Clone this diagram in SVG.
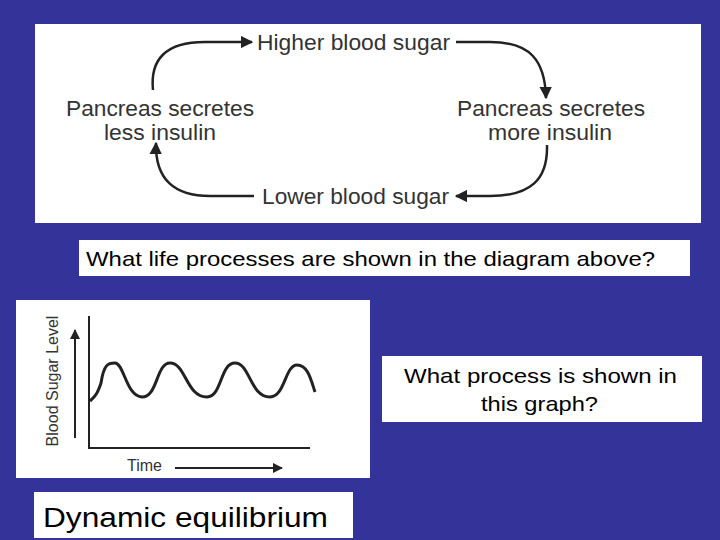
<svg xmlns="http://www.w3.org/2000/svg" width="720" height="540" viewBox="0 0 720 540">
<style>
.panel{fill:#ffffff}
.dt{font-family:"Liberation Sans",Arial,sans-serif;font-size:22px;fill:#333333;text-anchor:middle}
.q{font-family:"Liberation Sans",Arial,sans-serif;font-size:21px;fill:#000000}
.g{font-family:"Liberation Sans",Arial,sans-serif;font-size:16px;fill:#333333}
.arc{fill:none;stroke:#222222;stroke-width:2.5}
.ax{fill:none;stroke:#222222;stroke-width:2}
</style>
<defs>
<marker id="ah" viewBox="0 0 10 10" refX="9" refY="5" markerWidth="5" markerHeight="5" orient="auto" markerUnits="strokeWidth">
<path d="M0,0 L10,5 L0,10 z" fill="#222222"/>
</marker>
<marker id="ah2" viewBox="0 0 10 10" refX="9" refY="5" markerWidth="5" markerHeight="5" orient="auto" markerUnits="strokeWidth">
<path d="M0,0 L10,5 L0,10 z" fill="#222222"/>
</marker>
</defs>
<rect width="720" height="540" fill="#333399"/>

<g id="cycle-panel">
<rect class="panel" x="35" y="24" width="666" height="199"/>
</g>
<g id="node-higher"><text class="dt" x="353.5" y="50" textLength="193" lengthAdjust="spacingAndGlyphs">Higher blood sugar</text></g>
<g id="node-more"><text class="dt" x="551" y="116" textLength="188" lengthAdjust="spacingAndGlyphs">Pancreas secretes</text><text class="dt" x="550" y="140" textLength="124" lengthAdjust="spacingAndGlyphs">more insulin</text></g>
<g id="node-lower"><text class="dt" x="355.5" y="204" textLength="187" lengthAdjust="spacingAndGlyphs">Lower blood sugar</text></g>
<g id="node-less"><text class="dt" x="160" y="116" textLength="188" lengthAdjust="spacingAndGlyphs">Pancreas secretes</text><text class="dt" x="160" y="140" textLength="112" lengthAdjust="spacingAndGlyphs">less insulin</text></g>
<g id="connectors">
<path class="arc" d="M153,90 C150,60 165,42 205,42 L252,42" marker-end="url(#ah)"/>
<path class="arc" d="M456,42 L490,42 C530,42 545,60 546,98" marker-end="url(#ah)"/>
<path class="arc" d="M547,145 C548,180 530,196 490,196 L456,196" marker-end="url(#ah)"/>
<path class="arc" d="M254,196 L210,196 C175,196 155,180 156,143" marker-end="url(#ah)"/>
</g>

<g id="question1">
<rect class="panel" x="79" y="240" width="611" height="36"/>
<text class="q" x="86" y="266" textLength="569" lengthAdjust="spacingAndGlyphs">What life processes are shown in the diagram above?</text>
</g>

<g id="graph">
<rect class="panel" x="16" y="300" width="354" height="178"/>
<path class="ax" d="M89,316 L89,448 L310,448"/>
<path class="ax" d="M75,438 L75,330" marker-end="url(#ah2)"/>
<path class="ax" d="M175,468 L282,468" marker-end="url(#ah2)"/>
<text class="g" transform="translate(58,381) rotate(-90)" text-anchor="middle">Blood Sugar Level</text>
<text class="g" x="127" y="471">Time</text>
<path fill="none" stroke="#222222" stroke-width="3" d="M90,401 C96,396 98,392 101,383 C104,364 108,363 115,363 C124,363 126,396 142,397 C158,397 156,363 170,363 C186,363 186,397 207,397 C222,397 220,363 235,363 C250,363 250,397 270,397 C285,397 285,365 297,365 C308,365 311,380 315,392"/>
</g>

<g id="question2">
<rect class="panel" x="382" y="356" width="320" height="66"/>
<text class="q" x="540.5" y="383" text-anchor="middle" textLength="273" lengthAdjust="spacingAndGlyphs">What process is shown in</text>
<text class="q" x="539.5" y="411" text-anchor="middle" textLength="117" lengthAdjust="spacingAndGlyphs">this graph?</text>
</g>

<g id="answer">
<rect class="panel" x="34" y="492" width="319" height="46"/>
<text class="q" x="43" y="527" style="font-size:28px" textLength="285" lengthAdjust="spacingAndGlyphs">Dynamic equilibrium</text>
</g>
</svg>
